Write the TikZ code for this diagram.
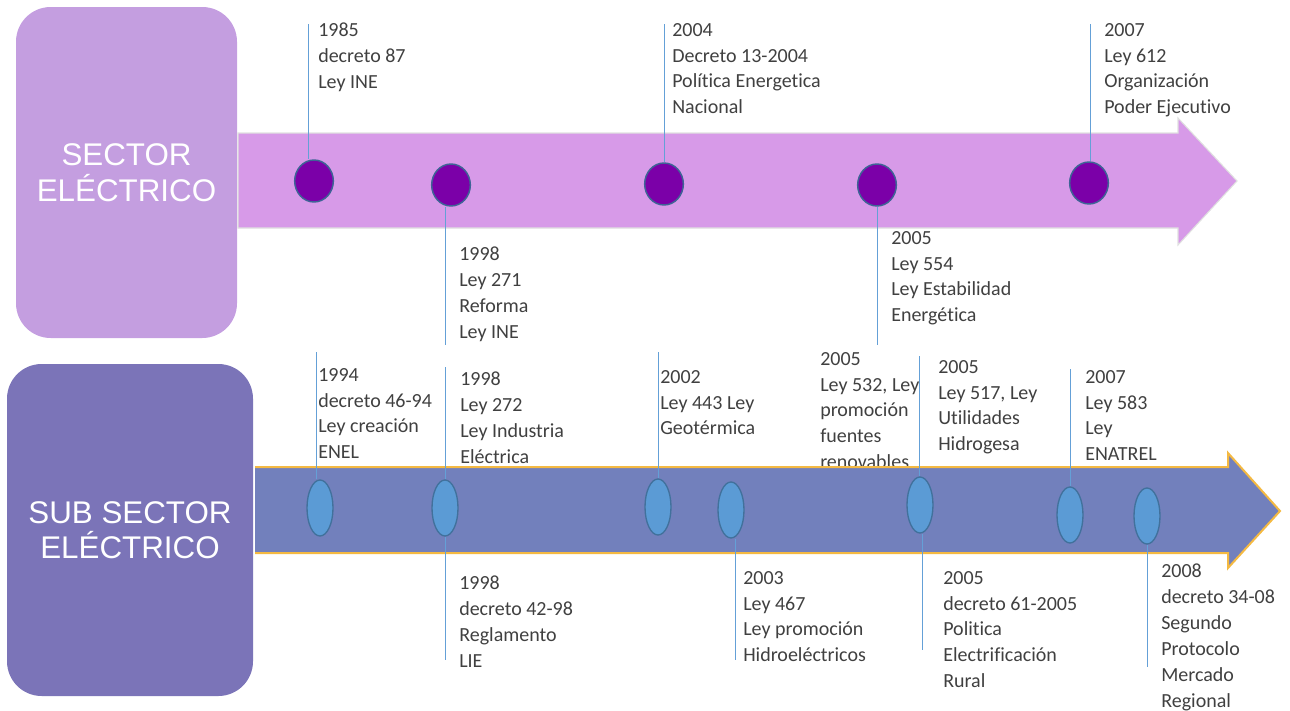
\documentclass[tikz,border=0pt]{standalone}
\usepackage{fontspec}
\setmainfont[Ligatures={NoCommon}]{Carlito}
\newfontfamily\titlefont{Liberation Sans}
\usetikzlibrary{shapes.geometric, positioning}

\definecolor{factgray}{RGB}{64,64,64}
\definecolor{sectorbox}{RGB}{196,158,224}
\definecolor{sectorarrow}{RGB}{215,154,232}
\definecolor{subbox}{RGB}{123,116,184}
\definecolor{subarrow}{RGB}{114,128,188}
\definecolor{subedge}{RGB}{244,185,66}
\definecolor{dotviolet}{RGB}{123,0,168}
\definecolor{dotedge}{RGB}{62,100,150}
\definecolor{ovalblue}{RGB}{91,155,213}
\definecolor{ovaledge}{RGB}{65,113,156}
\definecolor{leaderblue}{RGB}{100,160,215}

\begin{document}
\begin{tikzpicture}[x=0.75pt, y=-0.75pt,
	fact/.style={anchor=north west, inner sep=0pt, align=left, text=factgray,
		font=\fontsize{15}{19.4}\selectfont},
	titlebox/.style={rounded corners=26pt, inner sep=0pt, align=center, text=white,
		font=\titlefont\fontsize{23.5}{26.6}\selectfont},
	topdot/.style={ellipse, fill=dotviolet, draw=dotedge, line width=1.1pt,
		minimum width=29pt, minimum height=31.5pt, inner sep=0pt},
	oval/.style={ellipse, fill=ovalblue, draw=ovaledge, line width=1pt,
		minimum width=19.5pt, minimum height=42pt, inner sep=0pt},
	leader/.style={draw=leaderblue, line width=0.6pt}]
	\useasboundingbox (0,0) rectangle (1290,711);
	
	% Side boxes
	\node[titlebox, fill=sectorbox, minimum width=165.75pt, minimum height=248.25pt]
		(sector) at (126.5,172.5) {SECTOR\\ELÉCTRICO};
	\node[titlebox, fill=subbox, minimum width=184.5pt, minimum height=249pt]
		(subsector) at (130,530) {SUB SECTOR\\ELÉCTRICO};
	
	% Texts of the upper timeline
	\node[fact] (f1985) at (318,23) {1985\\decreto 87\\Ley INE};
	\node[fact] (f2004) at (672,23) {2004\\Decreto 13-2004\\Política Energetica\\Nacional};
	\node[fact] (f2007) at (1104,23) {2007\\Ley 612\\Organización\\Poder Ejecutivo};
	\node[fact] (f1998a) at (459,247) {1998\\Ley 271\\Reforma\\Ley INE};
	\node[fact] (f2005a) at (891,231) {2005\\Ley 554\\Ley Estabilidad\\Energética};
	
	% Texts of the lower timeline
	\node[fact] (f1994) at (318,368) {1994\\decreto 46-94\\Ley creación\\ENEL};
	\node[fact] (f1998b) at (460,372) {1998\\Ley 272\\Ley Industria\\Eléctrica};
	\node[fact] (f2002) at (660,370) {2002\\Ley 443 Ley\\Geotérmica};
	\node[fact] (f2005b) at (820,352) {2005\\Ley 532, Ley\\promoción\\fuentes\\renovables};
	\node[fact] (f2005c) at (938,360) {2005\\Ley 517, Ley\\Utilidades\\Hidrogesa};
	\node[fact] (f2007b) at (1085,370) {2007\\Ley 583\\Ley\\ENATREL};
	\node[fact] (f1998c) at (459,576) {1998\\decreto 42-98\\Reglamento\\LIE};
	\node[fact] (f2003) at (743,571) {2003\\Ley 467\\Ley promoción\\Hidroeléctricos};
	\node[fact] (f2005d) at (943,571) {2005\\decreto 61-2005\\Politica\\Electrificación\\Rural};
	\node[fact] (f2008) at (1161,564) {2008\\decreto 34-08\\Segundo\\Protocolo\\Mercado\\Regional};
	
	% Draw arrows
	\filldraw[fill=sectorarrow, draw=black!12, line width=0.8pt]
		(238,133) -- (1178,133) -- (1178,118) -- (1237,181) -- (1178,245) -- (1178,228) -- (238,228) -- cycle;
	\fill[subarrow] (255,467) -- (1228,467) -- (1228,453) -- (1280,511) -- (1228,568) -- (1228,553) -- (255,553) -- cycle;
	\draw[subedge, line width=1.5pt, line join=miter]
		(255,467) -- (1228,467) -- (1228,453) -- (1280,511) -- (1228,568) -- (1228,553) -- (255,553);
	
	% Draw dots
	\foreach \name/\x/\y in {d1985/314/181, d1998/451/185, d2004/664/184, d2005/877/185, d2007/1089/183}
	\node[topdot] (\name) at (\x,\y) {};
	
	\foreach \name/\x/\y in {o1994/320/508, o1998/445/508, o2002/658/507, o2003/731/510,
		o2005/920/505, o2007/1070/515, o2008/1147/516}
	\node[oval] (\name) at (\x,\y) {};
	
	% Free ends of the leaders
	\coordinate (t1985) at (308,24);
	\coordinate (t2004) at (664,24);
	\coordinate (t2007) at (1090,24);
	\coordinate (b1998) at (445,345);
	\coordinate (b2005) at (877,345);
	\coordinate (t1994) at (316,352);
	\coordinate (t1998) at (445,367);
	\coordinate (t2002) at (658,352);
	\coordinate (t2005) at (919,356);
	\coordinate (t2007b) at (1070,369);
	\coordinate (b1998c) at (445,660);
	\coordinate (b2003) at (735,660);
	\coordinate (b2005d) at (922,650);
	\coordinate (b2008) at (1147,667);
	
	% Draw leaders
	\foreach \tip/\dot in {t1985/d1985, t2004/d2004, t2007/d2007, t1994/o1994,
		t1998/o1998, t2002/o2002, t2005/o2005, t2007b/o2007}
	\draw[leader] (\tip) -- (\tip |- \dot.north);
	
	\foreach \tip/\dot in {b1998/d1998, b2005/d2005, b1998c/o1998, b2003/o2003,
		b2005d/o2005, b2008/o2008}
	\draw[leader] (\tip |- \dot.south) -- (\tip);
	
\end{tikzpicture}
\end{document}
